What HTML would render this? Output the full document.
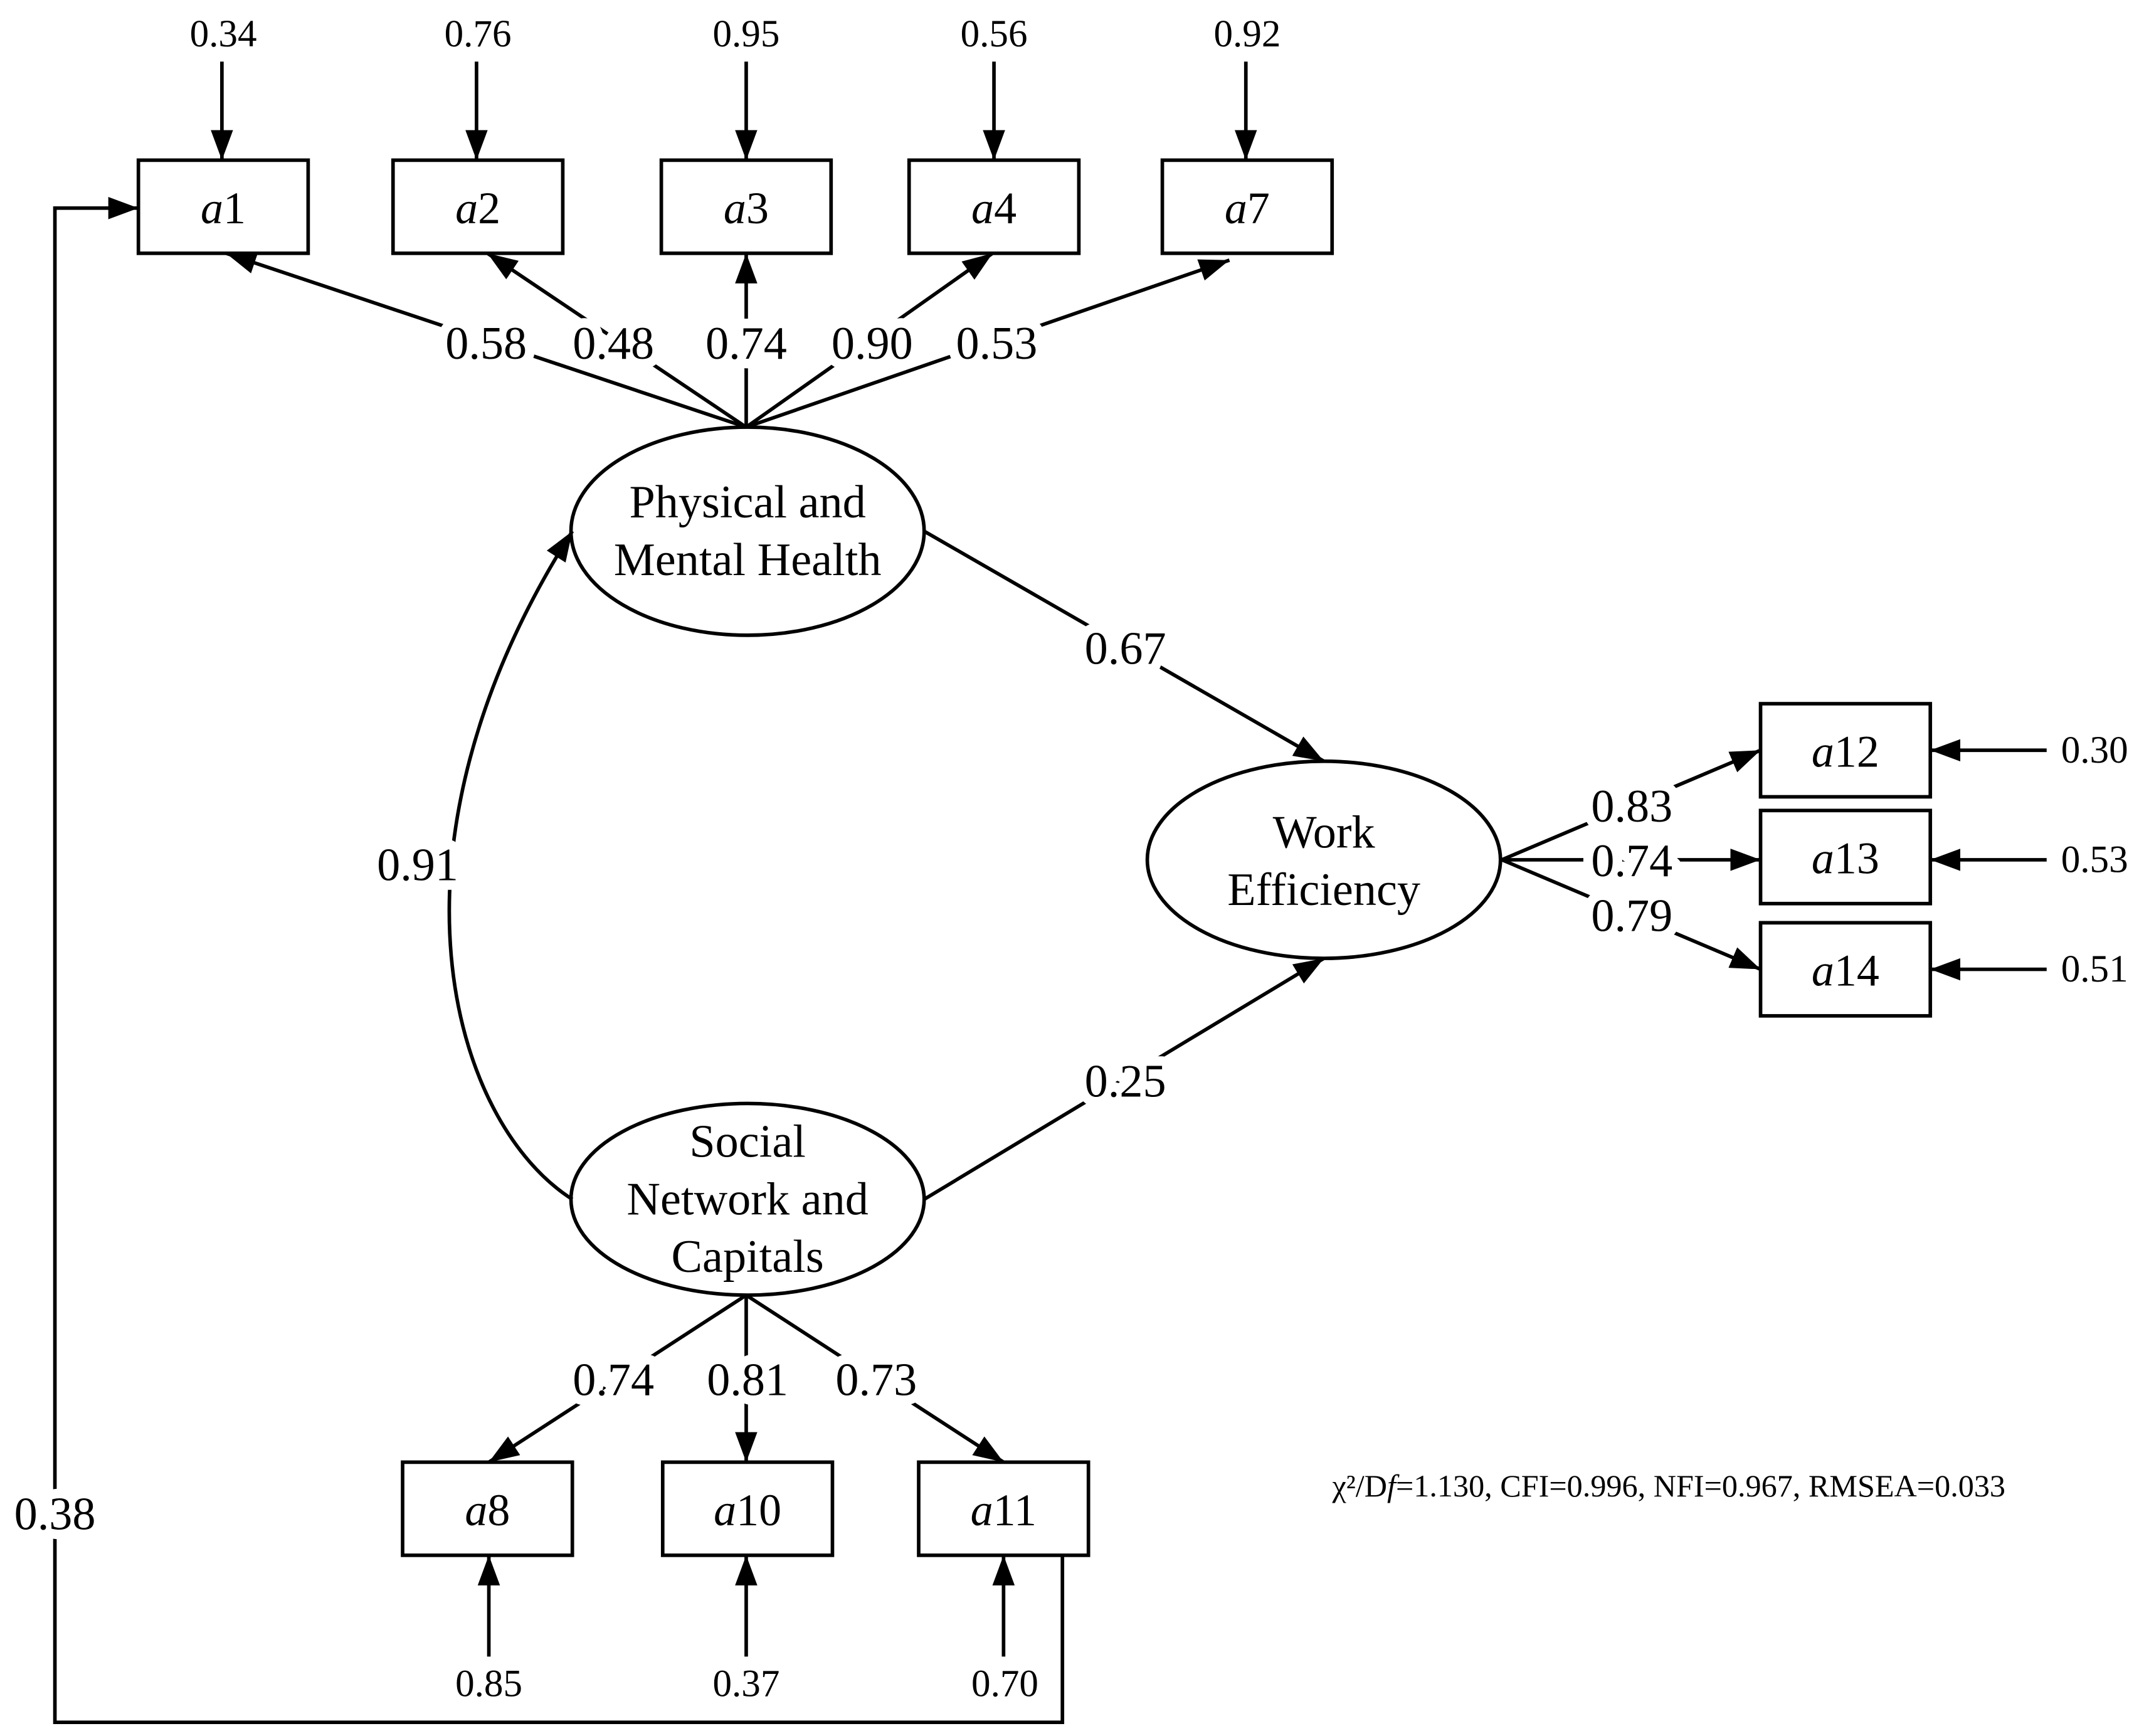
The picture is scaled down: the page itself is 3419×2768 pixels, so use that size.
<!DOCTYPE html>
<html><head><meta charset="utf-8"><style>html,body{margin:0;padding:0;background:#fff}svg{display:block}</style></head>
<body>
<svg width="3419" height="2768" viewBox="0 0 1566 1268" xmlns="http://www.w3.org/2000/svg" font-family="Liberation Serif, serif">
<defs>
<marker id="a" viewBox="0 0 10 10" refX="10" refY="5" markerWidth="22" markerHeight="22" markerUnits="userSpaceOnUse" orient="auto"><path d="M0,1.3L10,5L0,8.7z" fill="#000"/></marker></defs>
<g fill="none" stroke="#000" stroke-width="2.6">
<rect x="101" y="117" width="124" height="68"/><rect x="287" y="117" width="124" height="68"/><rect x="483" y="117" width="124" height="68"/><rect x="664" y="117" width="124" height="68"/><rect x="849" y="117" width="124" height="68"/>
<rect x="1286" y="514" width="124" height="68"/><rect x="1286" y="592" width="124" height="68"/><rect x="1286" y="674" width="124" height="68"/>
<rect x="294" y="1068" width="124" height="68"/><rect x="484" y="1068" width="124" height="68"/><rect x="671" y="1068" width="124" height="68"/>
<ellipse cx="546" cy="388" rx="129" ry="76"/><ellipse cx="967" cy="628" rx="129" ry="72"/><ellipse cx="546" cy="876" rx="129" ry="70"/>
<g marker-end="url(#a)">
<line x1="162" y1="45" x2="162" y2="117"/><line x1="348" y1="45" x2="348" y2="117"/><line x1="545" y1="45" x2="545" y2="117"/><line x1="726" y1="45" x2="726" y2="117"/><line x1="910" y1="45" x2="910" y2="117"/>
<line x1="545" y1="312" x2="165" y2="185"/><line x1="545" y1="312" x2="356" y2="185"/><line x1="545" y1="312" x2="545" y2="185"/><line x1="545" y1="312" x2="725" y2="185"/><line x1="545" y1="312" x2="898" y2="190"/>
<line x1="675" y1="388" x2="967" y2="556"/><line x1="675" y1="876" x2="967" y2="700"/>
<path d="M418,876 C330,820 270,620 418,388"/>
<line x1="1097" y1="628" x2="1286" y2="548"/><line x1="1097" y1="628" x2="1286" y2="628"/><line x1="1097" y1="628" x2="1286" y2="708"/>
<line x1="1495" y1="548" x2="1410" y2="548"/><line x1="1495" y1="628" x2="1410" y2="628"/><line x1="1495" y1="708" x2="1410" y2="708"/>
<line x1="545" y1="946" x2="357" y2="1068"/><line x1="545" y1="946" x2="545" y2="1068"/><line x1="545" y1="946" x2="733" y2="1068"/>
<line x1="357" y1="1210" x2="357" y2="1136"/><line x1="545" y1="1210" x2="545" y2="1136"/><line x1="733" y1="1210" x2="733" y2="1136"/>
<path d="M776,1136V1258H40V152H101"/>
</g></g>
<g font-size="33" text-anchor="middle" fill="#000">
<text x="163" y="163"><tspan font-style="italic">a</tspan>1</text><text x="349" y="163"><tspan font-style="italic">a</tspan>2</text><text x="545" y="163"><tspan font-style="italic">a</tspan>3</text><text x="726" y="163"><tspan font-style="italic">a</tspan>4</text><text x="911" y="163"><tspan font-style="italic">a</tspan>7</text>
<text x="1348" y="560"><tspan font-style="italic">a</tspan>12</text><text x="1348" y="638"><tspan font-style="italic">a</tspan>13</text><text x="1348" y="720"><tspan font-style="italic">a</tspan>14</text>
<text x="356" y="1114"><tspan font-style="italic">a</tspan>8</text><text x="546" y="1114"><tspan font-style="italic">a</tspan>10</text><text x="733" y="1114"><tspan font-style="italic">a</tspan>11</text>
</g>
<g font-size="34" text-anchor="middle" fill="#000">
<text x="546" y="378">Physical and</text><text x="546" y="420">Mental Health</text>
<text x="967" y="619">Work</text><text x="967" y="661">Efficiency</text>
<text x="546" y="845">Social</text><text x="546" y="887">Network and</text><text x="546" y="929">Capitals</text>
</g>
<g font-size="34" text-anchor="middle" fill="#000" stroke="#fff" stroke-width="14" paint-order="stroke" stroke-linejoin="round">
<text x="355" y="262">0.58</text><text x="448" y="262">0.48</text><text x="545" y="262">0.74</text><text x="637" y="262">0.90</text><text x="728" y="262">0.53</text>
<text x="822" y="485">0.67</text><text x="822" y="801">0.25</text><text x="305" y="643">0.91</text>
<text x="1192" y="600">0.83</text><text x="1192" y="640">0.74</text><text x="1192" y="680">0.79</text>
<text x="448" y="1019">0.74</text><text x="546" y="1019">0.81</text><text x="640" y="1019">0.73</text>
<text x="40" y="1117">0.38</text>
</g>
<g font-size="28" text-anchor="middle" fill="#000">
<text x="163" y="34">0.34</text><text x="349" y="34">0.76</text><text x="545" y="34">0.95</text><text x="726" y="34">0.56</text><text x="911" y="34">0.92</text>
<text x="1530" y="557">0.30</text><text x="1530" y="637">0.53</text><text x="1530" y="717">0.51</text>
<text x="357" y="1239">0.85</text><text x="545" y="1239">0.37</text><text x="734" y="1239">0.70</text>
</g>
<text x="1219" y="1093" font-size="23" text-anchor="middle">χ²/D<tspan font-style="italic">f</tspan>=1.130, CFI=0.996, NFI=0.967, RMSEA=0.033</text>
</svg>
</body></html>
